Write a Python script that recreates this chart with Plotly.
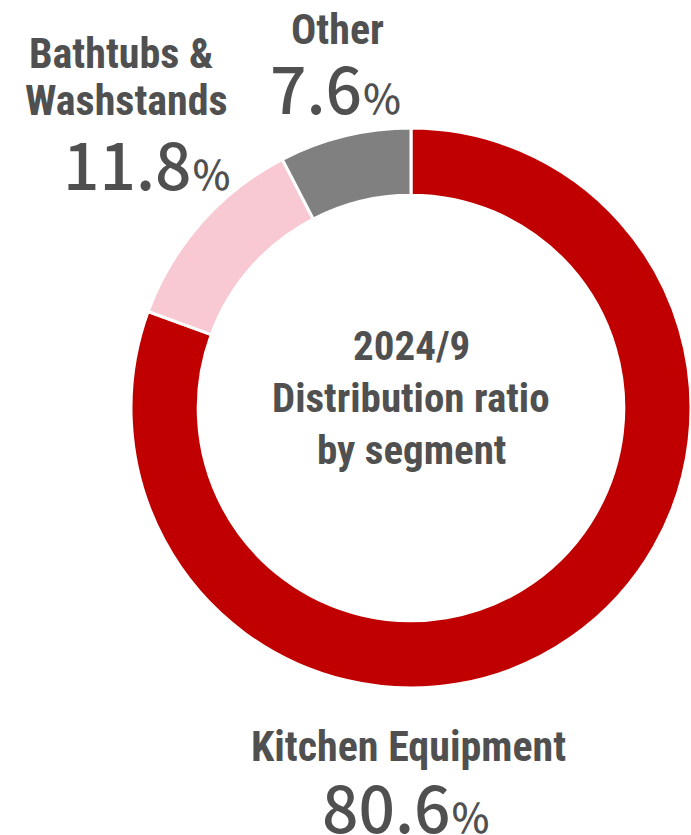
import plotly.graph_objects as go

segments = ["Kitchen Equipment", "Bathtubs & Washstands", "Other"]
shares = [80.6, 11.8, 7.6]
colors = ["#C00000", "#F8C8D3", "#808080"]
center_lines = ["2024/9", "Distribution ratio", "by segment"]

W, H = 691, 835
TXT = "#505050"
LBL_FONT = "Liberation Sans Narrow, Arial Narrow, Roboto Condensed, Liberation Sans, Arial"
NUM_FONT = "Noto Sans CJK JP, Noto Sans, Open Sans"


def px(x):
    return x / W


def py(y):
    return 1 - y / H


fig = go.Figure(go.Pie(
    labels=segments,
    values=shares,
    marker=dict(colors=colors, line=dict(color="white", width=3)),
    hole=0.76,
    sort=False,
    direction="clockwise",
    rotation=0,
    textinfo="none",
    hoverinfo="label+percent",
    showlegend=False,
    domain=dict(x=[px(131), px(691)], y=[py(688), py(128)]),
))

ann = []


def label(text, x, y, size):
    ann.append(dict(text=f"<b>{text}</b>", x=px(x), y=py(y), xref="paper", yref="paper",
                    xanchor="center", yanchor="middle", showarrow=False,
                    font=dict(family=LBL_FONT, size=size, color=TXT)))


def pct(v, x, y, size, psize):
    t = f"{v}<span style='font-size:{psize}px'>％</span>"
    ann.append(dict(text=t, x=px(x), y=py(y), xref="paper", yref="paper",
                    xanchor="center", yanchor="middle", showarrow=False,
                    font=dict(family=NUM_FONT, size=size, color=TXT, weight=500)))


LS = 42
NS, PS = 64, 40
# Other
label("Other", 337, 29, LS)
pct(shares[2], 336, 86, NS, PS)
# Bathtubs & Washstands
label("Bathtubs &", 121, 53, LS)
label("Washstands", 126, 100, LS)
pct(shares[1], 147, 162, NS, PS)
# Kitchen Equipment
label("Kitchen Equipment", 408, 746, LS)
pct(shares[0], 407, 805, NS, PS)
# Center
for i, line in enumerate(center_lines):
    label(line, 411, 346 + 52 * i, 41)

fig.update_layout(
    width=W, height=H,
    margin=dict(l=0, r=0, t=0, b=0),
    paper_bgcolor="white", plot_bgcolor="white",
    annotations=ann,
)

fig.write_html(
    "out.html",
    config={"displayModeBar": False},
    post_script="document.body.style.margin='0';document.body.style.overflow='hidden';",
)
